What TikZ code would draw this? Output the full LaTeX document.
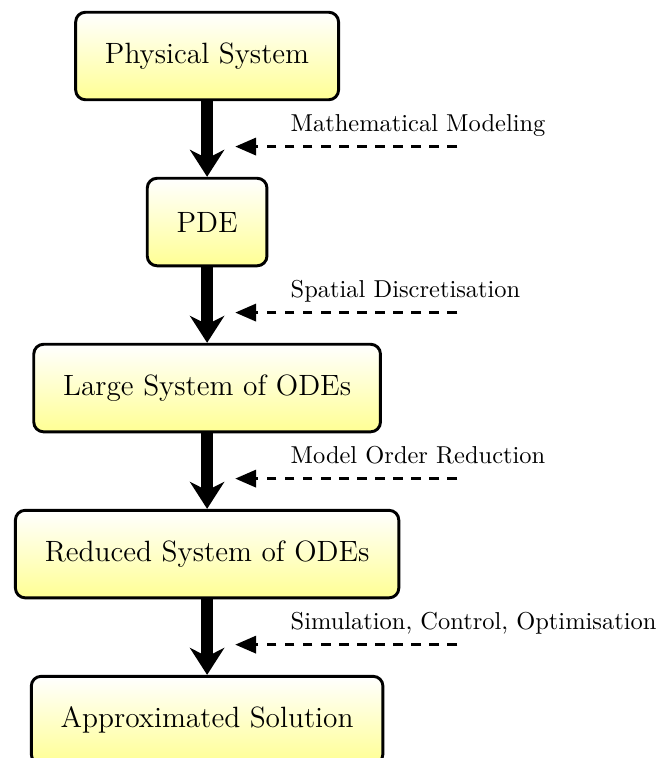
\documentclass[tikz,border=0pt]{standalone}
\usepackage{tikz}
\usetikzlibrary{
    arrows.meta,
    calc,
    positioning,
}
\tikzset{
    stagenode/.style={
            draw,
            line width=1.2pt,
            rounded corners=4pt,
            top color=white,
            bottom color=yellow!42,
            inner xsep=12pt,
            minimum height=35.8pt,
            font=\large,
        }
}
\tikzset{
    flowarrow/.style={
            line width=4.9pt,
            -{Stealth[length=11pt,width=14pt,inset=3.5pt]},
        }
}
\tikzset{
    hintarrow/.style={
            line width=1.2pt,
            dash pattern=on 4pt off 3.4pt,
            -{Triangle[length=8.5pt,width=7pt]},
        }
}

\begin{document}
\begin{tikzpicture}[node distance=30.9pt]
    \useasboundingbox (-84.7pt,22.9pt) rectangle (184.5pt,-287.1pt);

    % stages
    \node[stagenode] (PS) at (0,0) {Physical System};
    \node[stagenode, below=of PS] (PDE) {PDE};
    \node[stagenode, below=of PDE] (LS) {Large System of ODEs};
    \node[stagenode, below=of LS] (RS) {Reduced System of ODEs};
    \node[stagenode, below=of RS] (AS) {Approximated Solution};

    % stage -> stage, with the step that leads there
    \foreach \a/\b/\l in {
            PS/PDE/Mathematical Modeling,
            PDE/LS/Spatial Discretisation,
            LS/RS/Model Order Reduction,
            RS/AS/{Simulation, Control, Optimisation}
        }
        {
            \draw[flowarrow] (\a.south) -- (\b.north);
            \coordinate (T-\a) at ($(\a.south)!0.6!(\b.north) + (11.5pt,0)$);
            \coordinate (S-\a) at ($(T-\a) + (90.8pt,0)$);
            \draw[hintarrow] (S-\a) -- (T-\a);
            \node[
                anchor=base west,
                inner sep=0pt,
            ] (L-\a) at ($(T-\a) + (22.5pt,6pt)$) {\l};
        }
\end{tikzpicture}
\end{document}
